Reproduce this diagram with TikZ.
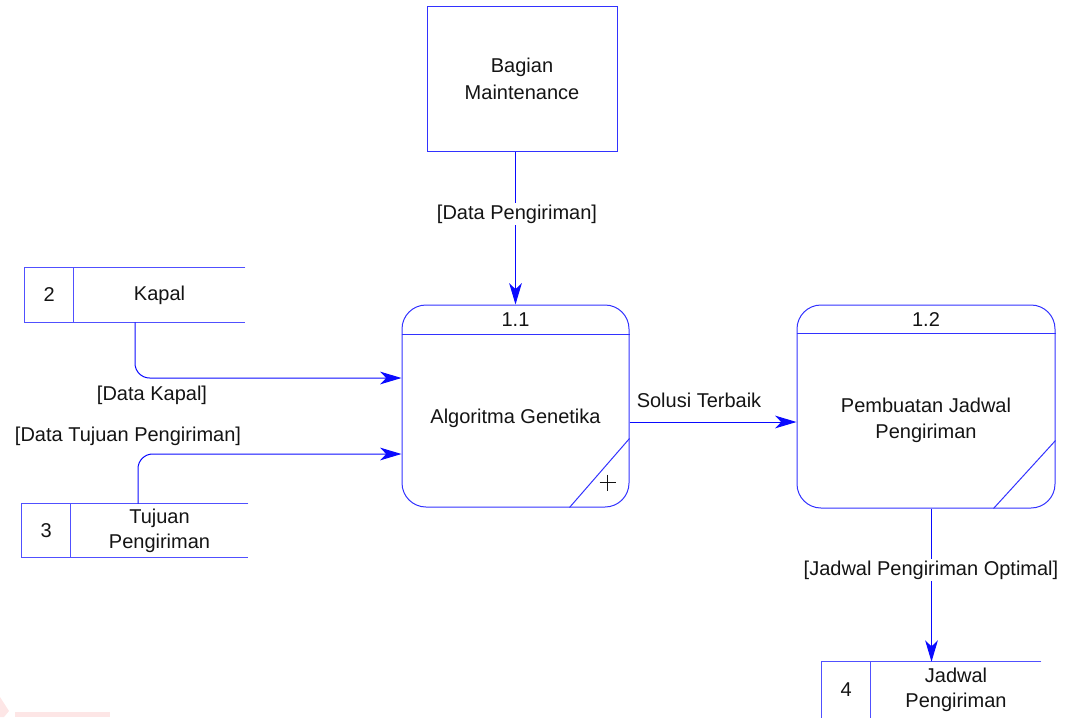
\documentclass[tikz,border=0pt]{standalone}
\usepackage{fontspec}
\setmainfont{Liberation Sans}
\usetikzlibrary{arrows.meta,calc}

\definecolor{flowblue}{RGB}{10,10,255}
\definecolor{edgeblue}{RGB}{50,50,255}
\definecolor{storeblue}{RGB}{80,80,255}
\definecolor{inkgray}{RGB}{20,20,20}
\definecolor{markpink}{RGB}{253,230,230}

% open-ended data store: frame, divider, number and label
\newcommand{\datastore}[6]{%
  \node[storeframe, minimum width=#3, minimum height=#4] (#1) at #2 {};
  \draw[storeline] (#1.north east) -- (#1.north west) -- (#1.south west) -- (#1.south east);
  \draw[storeline] ([xshift=36.75pt]#1.north west) coordinate (#1-dt) -- ([xshift=36.75pt]#1.south west) coordinate (#1-db);
  \node (#1-num) at ($(#1.west)!0.5!(#1-dt |- #1.west)$) {#5};
  \node[align=center] (#1-label) at ($(#1-dt |- #1.west)!0.5!(#1.east)$) {#6};
}

\begin{document}
\begin{tikzpicture}[x=0.75pt,y=-0.75pt,
  every node/.style={font=\fontsize{15}{18.5}\selectfont, text=inkgray, inner sep=0pt},
  external/.style={draw=edgeblue, line width=0.75pt, align=center},
  process/.style={draw=edgeblue, line width=0.75pt, rounded corners=18pt},
  edge/.style={draw=edgeblue, line width=0.75pt},
  storeframe/.style={draw=none},
  storeline/.style={draw=storeblue, line width=0.75pt},
  flow/.style={draw=flowblue, line width=0.75pt, -{Stealth[length=16pt, width=9.5pt, inset=4.5pt]}},
  flowlabel/.style={inner sep=1.5pt},
  plusmark/.style={draw=inkgray, line width=0.6pt}
]
\useasboundingbox (0,0) rectangle (1069,717);
\clip (0,0) rectangle (1069,717);

% faint mark in the lower left corner
\fill[markpink] (0,697) -- (9,711) -- (4,717) -- (0,717) -- cycle;
\fill[markpink] (15,712) rectangle (110,717);

% external entity
\node[external, minimum width=142.5pt, minimum height=108pt,
      font=\fontsize{15}{20.3}\selectfont] (maint) at (522,79) {Bagian\\Maintenance};

% processes
\node[process, minimum width=170.25pt, minimum height=151.5pt] (proc1) at (515.5,406) {};
\draw[edge] ([yshift=-22.5pt]proc1.north west) -- ([yshift=-22.5pt]proc1.north east);
\node (proc1-id) at ([yshift=-11.25pt]proc1.north) {1.1};
\node (proc1-name) at ([yshift=-9pt]proc1.center) {Algoritma Genetika};
\draw[edge] ([xshift=-45pt]proc1.south east) -- ([yshift=51.75pt]proc1.south east);
\coordinate (proc1-plus) at ([xshift=-16.5pt, yshift=18.75pt]proc1.south east);
\draw[plusmark] ($(proc1-plus)+(-8,0)$) -- ($(proc1-plus)+(8,0)$);
\draw[plusmark] ($(proc1-plus)+(0,-8)$) -- ($(proc1-plus)+(0,8)$);

\node[process, minimum width=193.5pt, minimum height=152.25pt] (proc2) at (926,406.5) {};
\draw[edge] ([yshift=-22pt]proc2.north west) -- ([yshift=-22pt]proc2.north east);
\node (proc2-id) at ([yshift=-11pt]proc2.north) {1.2};
\node[align=center, font=\fontsize{15}{19.5}\selectfont] (proc2-name) at ([yshift=-10pt]proc2.center) {Pembuatan Jadwal\\Pengiriman};
\draw[edge] ([xshift=-46.5pt]proc2.south east) -- ([yshift=51pt]proc2.south east);

% data stores
\datastore{kapal}{(135,295)}{165pt}{40.5pt}{2}{Kapal}
\datastore{tujuan}{(135,530.5)}{169.5pt}{39.75pt}{3}{Tujuan\\Pengiriman}
\datastore{jadwal}{(931.5,690)}{164.25pt}{42pt}{4}{Jadwal\\Pengiriman}

% data flows
\draw[flow] (proc1.north |- maint.south) -- (proc1.north);
\node[flowlabel, fill=white] (lbl-peng) at (517,214) {[Data Pengiriman]};

\draw[flow, rounded corners=11pt] (kapal.south) |- ([yshift=21pt]proc1.west);
\node[flowlabel] (lbl-kapal) at (152,395) {[Data Kapal]};

\draw[flow, rounded corners=11pt] ([xshift=2.25pt]tujuan.north) |- ([yshift=-36pt]proc1.west);
\node[flowlabel] (lbl-tujuan) at (128,436) {[Data Tujuan Pengiriman]};

\draw[flow] ([yshift=-12pt]proc1.east) -- ([yshift=-12pt]proc1.east -| proc2.west);
\node[flowlabel] (lbl-solusi) at (699,400) {Solusi Terbaik};

\draw[flow] (jadwal.north |- proc2.south) -- (jadwal.north);
\node[flowlabel, fill=white] (lbl-jadwal) at (931,570) {[Jadwal Pengiriman Optimal]};
\end{tikzpicture}
\end{document}
